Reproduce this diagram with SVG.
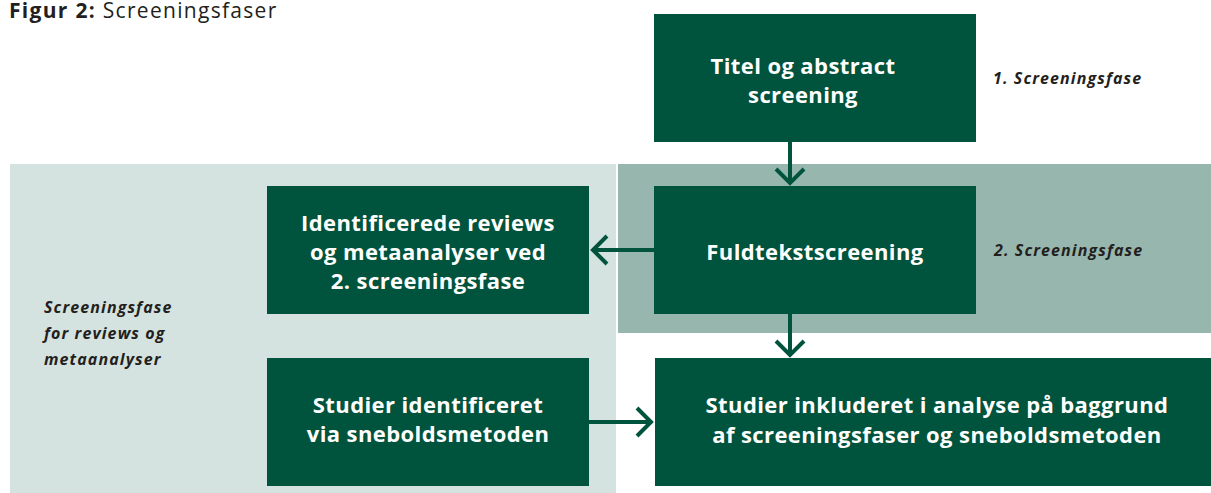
<svg xmlns="http://www.w3.org/2000/svg" width="1211" height="493" viewBox="0 0 1211 493">
<style>
.box{fill:#00533d}
.bt{font-family:"Open Sans",Lato,sans-serif;font-weight:700;font-size:22px;letter-spacing:0.4px;fill:#ffffff;text-anchor:middle}
.lab{font-family:"Open Sans",Lato,sans-serif;font-weight:700;font-style:italic;font-size:16px;letter-spacing:1.1px;fill:#231f20}
.con{stroke:#00533d;stroke-width:4;fill:none}
</style>
<defs>
<marker id="arr" markerUnits="userSpaceOnUse" markerWidth="40" markerHeight="40" refX="20" refY="20" orient="auto" viewBox="0 0 40 40">
<path d="M5,6 L19,20 L5,34" stroke="#00533d" stroke-width="4" fill="none"/>
</marker>
</defs>
<rect width="1211" height="493" fill="#ffffff"/>
<g id="title">
<text x="9" y="18" font-family="'Open Sans',Lato,sans-serif" font-size="21" letter-spacing="1.3" fill="#231f20"><tspan font-weight="700">Figur 2:</tspan> Screeningsfaser</text>
</g>
<g id="panel-reviews">
<rect x="10" y="164" width="606" height="329" fill="#d4e3df"/>
<text class="lab"><tspan x="44" y="313">Screeningsfase</tspan><tspan x="44" y="339">for reviews og</tspan><tspan x="44" y="365">metaanalyser</tspan></text>
</g>
<g id="panel-phase2">
<rect x="618" y="164" width="593" height="169" fill="#97b7ae"/>
<text class="lab" x="994" y="256">2. Screeningsfase</text>
</g>
<g id="label-phase1">
<text class="lab" x="993" y="84">1. Screeningsfase</text>
</g>
<g id="node-titel">
<rect class="box" x="654" y="14" width="322" height="128"/>
<text class="bt"><tspan x="803" y="74">Titel og abstract</tspan><tspan x="803" y="103">screening</tspan></text>
</g>
<g id="node-fuldtekst">
<rect class="box" x="654" y="186" width="322" height="128"/>
<text class="bt" x="815" y="260">Fuldtekstscreening</text>
</g>
<g id="node-reviews">
<rect class="box" x="267" y="186" width="322" height="128"/>
<text class="bt"><tspan x="428" y="231">Identificerede reviews</tspan><tspan x="428" y="260">og metaanalyser ved</tspan><tspan x="428" y="289">2. screeningsfase</tspan></text>
</g>
<g id="node-snebold">
<rect class="box" x="267" y="358" width="322" height="128"/>
<text class="bt"><tspan x="428" y="413">Studier identificeret</tspan><tspan x="428" y="442">via sneboldsmetoden</tspan></text>
</g>
<g id="node-inkluderet">
<rect class="box" x="655" y="358" width="556" height="128"/>
<text class="bt"><tspan x="937" y="413">Studier inkluderet i analyse på baggrund</tspan><tspan x="937" y="443">af screeningsfaser og sneboldsmetoden</tspan></text>
</g>
<g id="connectors">
<path class="con" d="M790,142 V184" marker-end="url(#arr)"/>
<path class="con" d="M654,250 H592" marker-end="url(#arr)"/>
<path class="con" d="M790,314 V356" marker-end="url(#arr)"/>
<path class="con" d="M589,422 H652" marker-end="url(#arr)"/>
</g>
</svg>
